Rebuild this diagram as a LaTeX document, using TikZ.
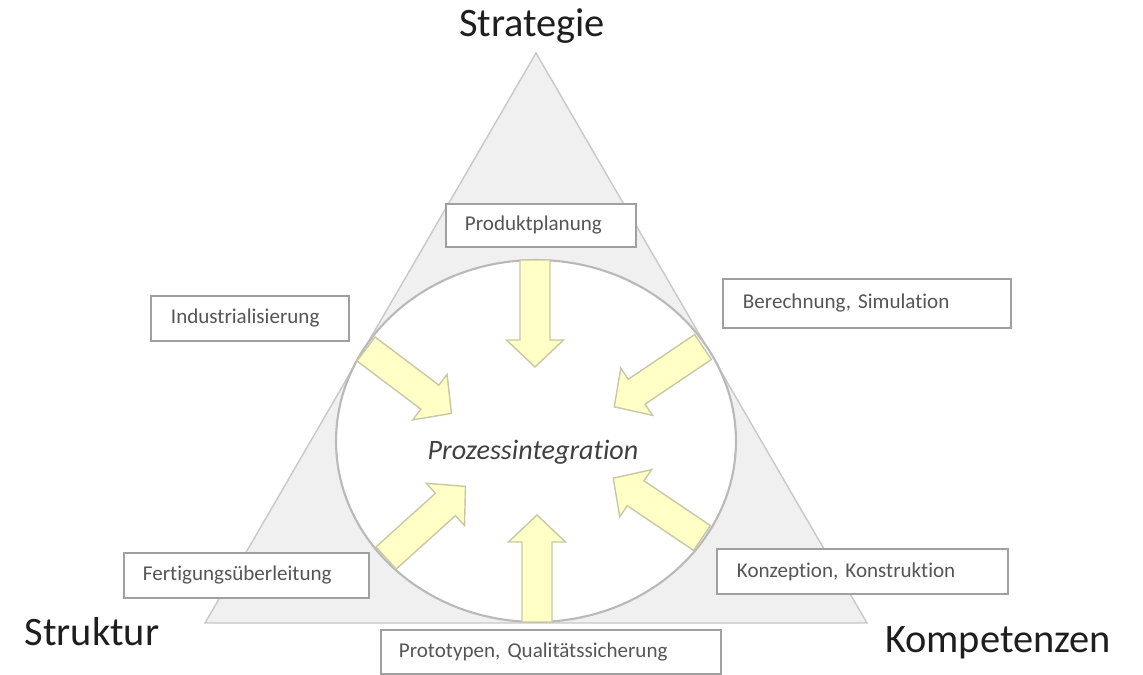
\documentclass[tikz,border=0pt]{standalone}
\usepackage{fontspec}
\setmainfont{Carlito}[Ligatures=NoCommon]
\usetikzlibrary{positioning}
\definecolor{triFill}{RGB}{240,240,240}
\definecolor{triLine}{RGB}{200,200,200}
\definecolor{ringLine}{RGB}{185,185,185}
\definecolor{arrowFill}{RGB}{255,255,198}
\definecolor{arrowLine}{RGB}{200,200,165}
\definecolor{boxLine}{RGB}{160,160,160}
\definecolor{boxText}{RGB}{85,85,85}
\definecolor{cornerText}{RGB}{30,30,30}
\tikzset{
  % the three corners of the triangle
  cornerlbl/.style={font=\fontsize{23}{26}\selectfont, text=cornerText, anchor=base, inner sep=0pt},
  % white boxes with the fields of work
  taskbox/.style={draw=boxLine, fill=white, line width=1.1pt, anchor=north west,
    font=\fontsize{12}{14}\selectfont, text=boxText, align=left,
    inner xsep=0.38cm, inner ysep=0pt},
  % yellow block arrows into the circle
  blockarrow/.style={fill=arrowFill, draw=arrowLine, line width=0.8pt, line join=miter},
}
% block arrow, tail at the origin, pointing along +x
\def\arrowpath{(0,-15) -- (80,-15) -- (80,-28.5) -- (107,0) -- (80,28.5) -- (80,15) -- (0,15) -- cycle}
\frenchspacing
\begin{document}
\begin{tikzpicture}[x=0.02cm, y=-0.02cm]
  \useasboundingbox (0,0) rectangle (1143,675);
  % --- triangle and circle ---
  \draw[fill=triFill, draw=triLine, line width=0.8pt] (536,53) -- (205,623) -- (867,623) -- cycle;
  \draw[fill=white, draw=ringLine, line width=1.2pt] (536,441) ellipse [x radius=4cm, y radius=3.62cm];
  % --- arrows pointing to the middle ---
  \foreach \px/\py/\ang in {535/260/-90, 537/622/90, 366/349/-37, 386/558/42,
                            703/347/-146, 702/538/146}
    \draw[blockarrow, shift={(\px,\py)}, rotate=\ang] \arrowpath;
  \node[font=\fontsize{16}{19}\itshape, text=black!75] (mitte) at (533,452) {Prozessintegration};
  % --- corner labels ---
  \node[cornerlbl] (strategie) at (532,37) {Strategie};
  \node[cornerlbl] (struktur) at (92,645) {Struktur};
  \node[cornerlbl] (kompetenz) at (998,652) {Kompetenzen};
  % --- boxes ---
  \node[taskbox, text width=3.04cm, minimum height=0.86cm] (planung) at (445,203) {Produktplanung};
  \node[taskbox, text width=4.96cm, minimum height=0.98cm, inner xsep=0.4cm] (berechnung) at (722,278) {Berechnung, Simulation};
  \node[taskbox, text width=3.16cm, minimum height=0.9cm, inner xsep=0.4cm] (industrie) at (150,295) {Industrialisierung};
  \node[taskbox, text width=4.14cm, minimum height=0.9cm] (fertigung) at (123,552) {Fertigungsüberleitung};
  \node[taskbox, text width=5.02cm, minimum height=0.9cm, inner xsep=0.4cm] (konzeption) at (716,548) {Konzeption, Konstruktion};
  \node[taskbox, text width=6.08cm, minimum height=0.88cm, inner xsep=0.36cm] (prototyp) at (380,629) {Prototypen, Qualitätssicherung};
\end{tikzpicture}
\end{document}
